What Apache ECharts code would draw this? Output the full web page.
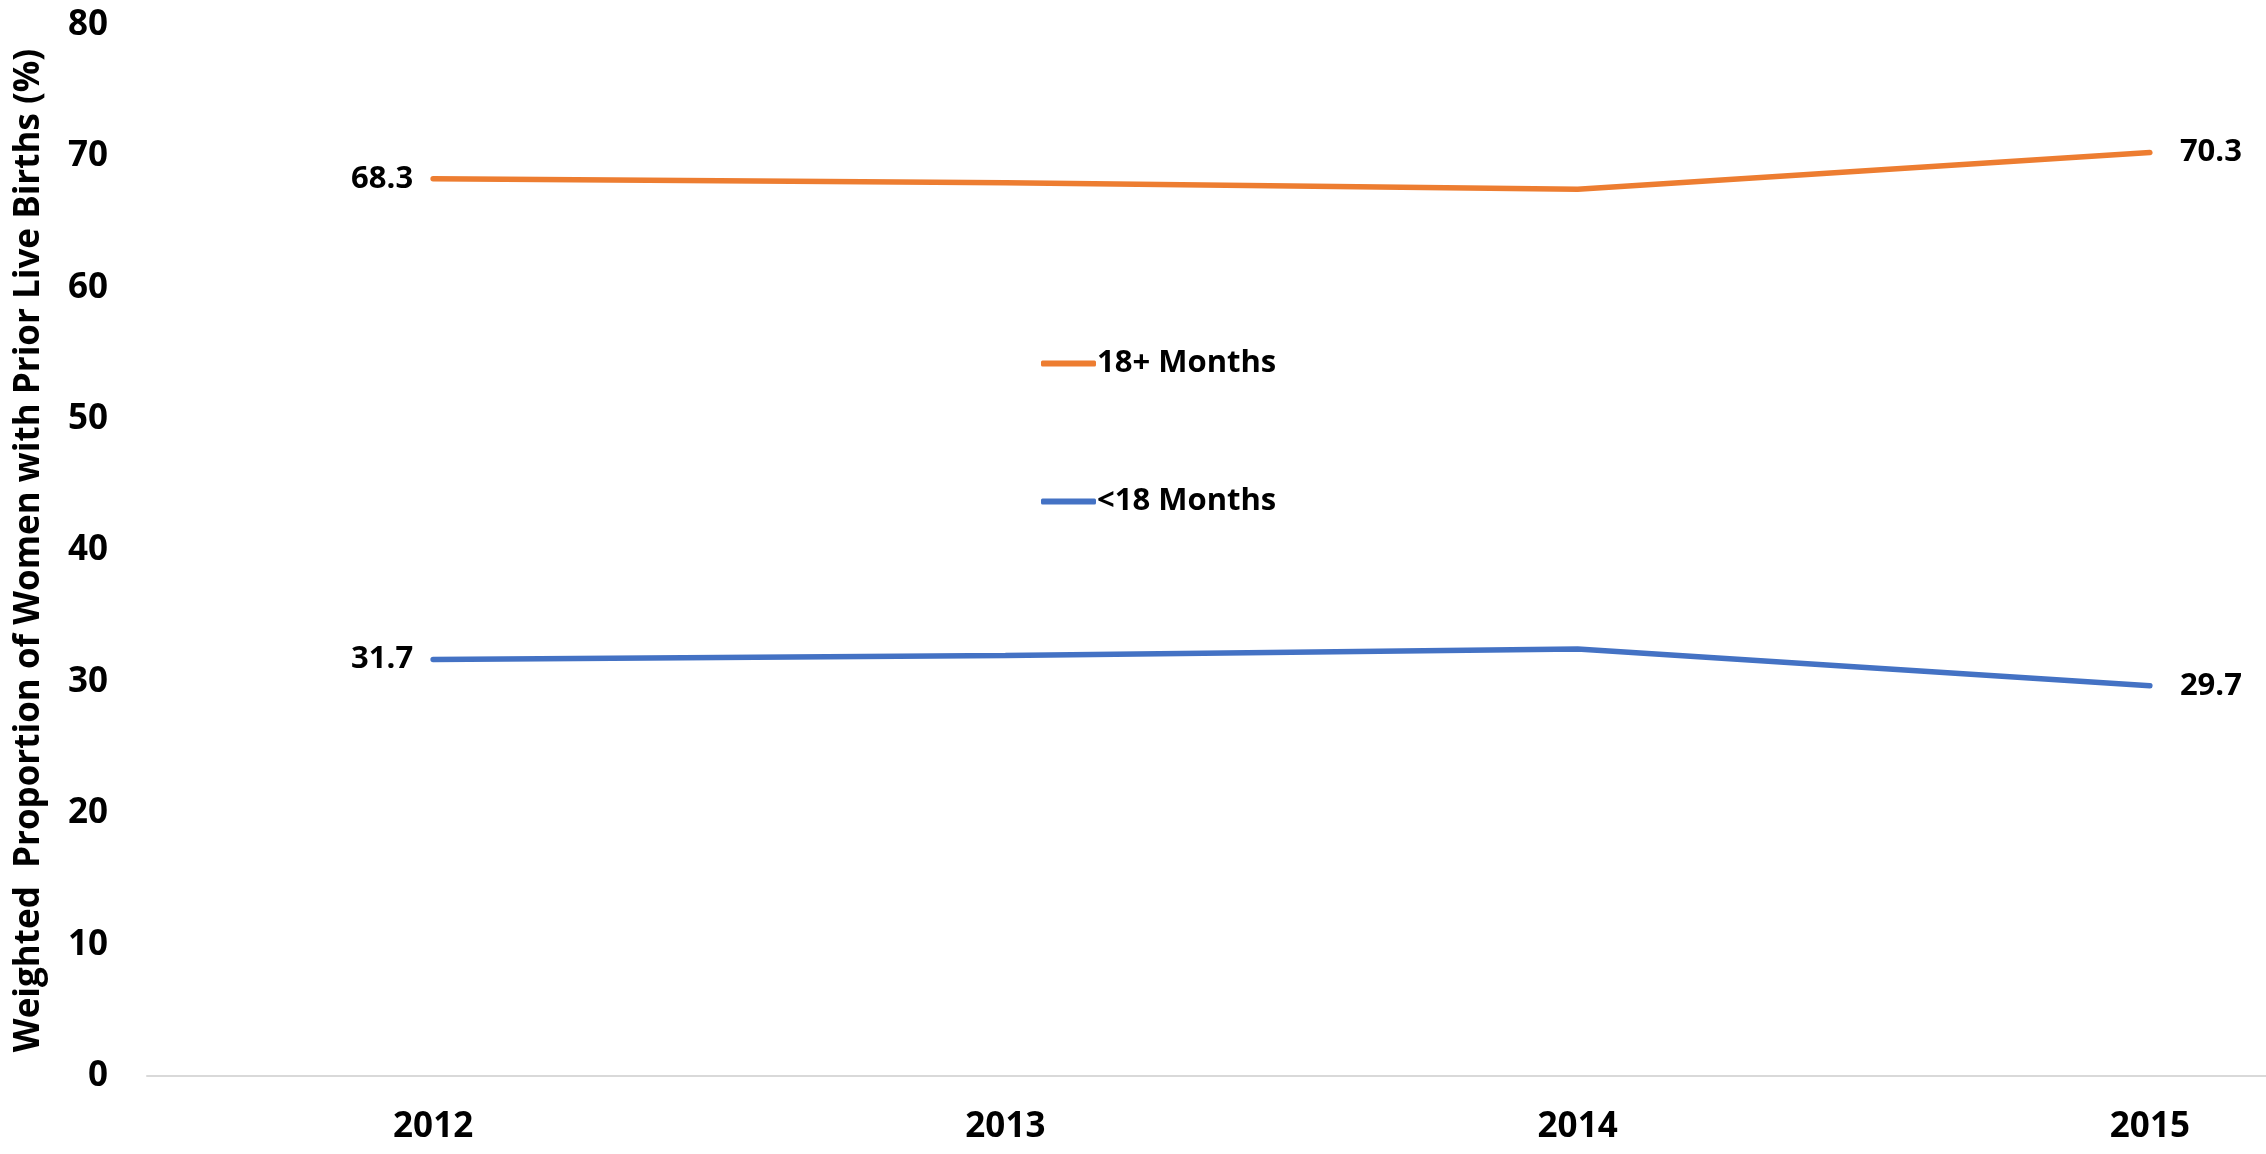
<!DOCTYPE html>
<html>
<head>
<meta charset="utf-8">
<script src="https://cdn.jsdelivr.net/npm/echarts@6/dist/echarts.min.js"></script>
<style>
  html, body { margin: 0; padding: 0; background: #fff; }
  #chart { width: 2266px; height: 1154px; }
</style>
</head>
<body>
<div id="chart"></div>
<script>
// 数据
const years = ['2012', '2013', '2014', '2015'];
const over18 = [68.3, 68.0, 67.5, 70.3];
const under18 = [31.7, 32.0, 32.5, 29.7];
const yTicks = [0, 80, 10]; // min, max, interval

const FONT = 'Open Sans';

// only first and last points get a label
function endLabels (values) {
  return values.map(function (v, i) {
    const item = { value: v, label: { show: false } };
    if (i === 0) {
      item.label = { show: true, position: 'left', distance: 20 };
    } else if (i === values.length - 1) {
      item.label = { show: true, position: 'right', distance: 30 };
    }
    return item;
  });
}

const container = document.getElementById('chart');
const myChart = echarts.init(container);
const option = {
  backgroundColor: '#fff',
  textStyle: { fontFamily: FONT },
  grid: {
    left: 147,
    top: 25,
    width: 2289,
    bottom: 78,
    outerBoundsMode: 'none',
    containLabel: false
  },
  legend: {
    orient: 'vertical',
    left: 1036,
    top: 343,
    itemGap: 107,
    itemWidth: 55,
    itemHeight: 6,
    icon: 'roundRect',
    data: ['18+ Months', '<18 Months'],
    textStyle: {
      fontFamily: FONT,
      fontWeight: 'bold',
      fontSize: 31,
      color: '#000',
      padding: [0, 0, 0, -4]
    }
  },
  xAxis: {
    type: 'category',
    data: years,
    boundaryGap: true,
    axisLine: { show: true, lineStyle: { color: '#D9D9D9', width: 2 } },
    axisTick: { show: false },
    axisLabel: {
      margin: 34,
      fontFamily: FONT,
      fontWeight: 'bold',
      fontSize: 35,
      color: '#000'
    }
  },
  yAxis: {
    type: 'value',
    min: yTicks[0],
    max: yTicks[1],
    interval: yTicks[2],
    name: 'Weighted  Proportion of Women with Prior Live Births (%)',
    nameLocation: 'middle',
    nameRotate: 90,
    nameGap: 100,
    nameTextStyle: {
      fontFamily: FONT,
      fontWeight: 'bold',
      fontSize: 35,
      color: '#000'
    },
    axisLine: { show: false },
    axisTick: { show: false },
    splitLine: { show: false },
    axisLabel: {
      margin: 39,
      fontFamily: FONT,
      fontWeight: 'bold',
      fontSize: 35,
      color: '#000'
    }
  },
  series: [
    {
      name: '18+ Months',
      type: 'line',
      data: endLabels(over18),
      symbol: 'circle',
      symbolSize: 0,
      showSymbol: true,
      lineStyle: { color: '#ED7D31', width: 5.5, cap: 'round' },
      itemStyle: { color: '#ED7D31' },
      label: {
        fontFamily: FONT,
        fontWeight: 'bold',
        fontSize: 31,
        color: '#000'
      }
    },
    {
      name: '<18 Months',
      type: 'line',
      data: endLabels(under18),
      symbol: 'circle',
      symbolSize: 0,
      showSymbol: true,
      lineStyle: { color: '#4472C4', width: 5.5, cap: 'round' },
      itemStyle: { color: '#4472C4' },
      label: {
        fontFamily: FONT,
        fontWeight: 'bold',
        fontSize: 31,
        color: '#000'
      }
    }
  ]
};
myChart.setOption(option, true);
</script>
</body>
</html>
